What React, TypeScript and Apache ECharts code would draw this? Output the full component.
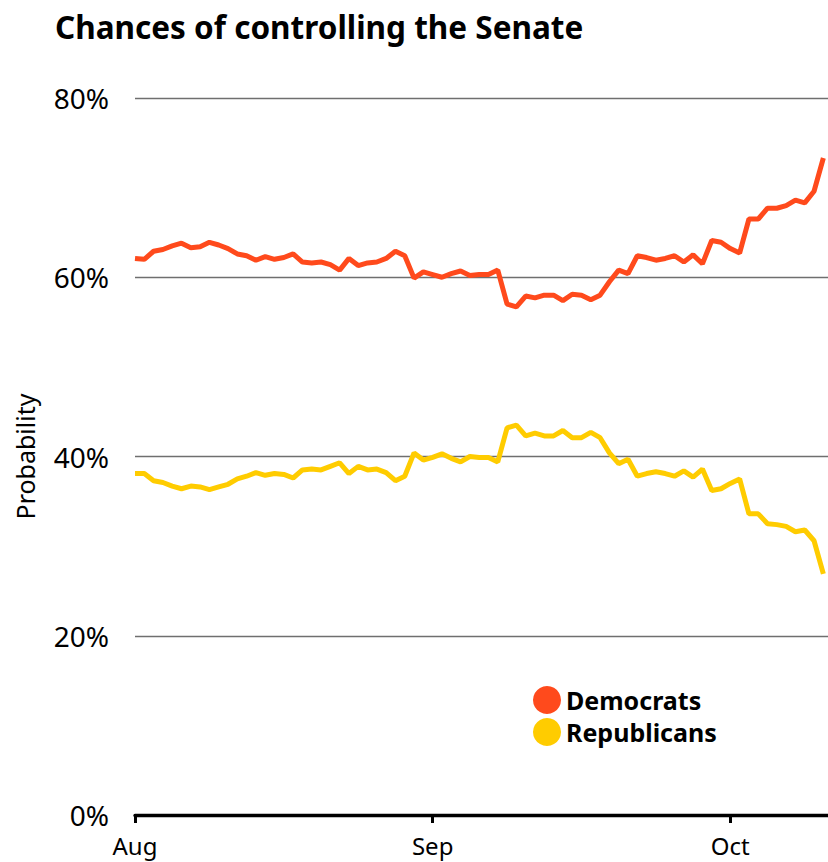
import React, { useEffect, useRef } from "react";
import * as echarts from "echarts";

// Daily-ish model runs, indexed from the start of August
const democrats = [
  62.1, 62.0, 62.9, 63.1, 63.5, 63.8, 63.3, 63.4, 63.9, 63.6, 63.2, 62.6, 62.4,
  61.9, 62.3, 62.0, 62.2, 62.6, 61.7, 61.6, 61.7, 61.4, 60.8, 62.1, 61.3, 61.6,
  61.7, 62.1, 62.9, 62.4, 59.9, 60.6, 60.3, 60.0, 60.4, 60.7, 60.2, 60.3, 60.3,
  60.8, 57.0, 56.7, 57.9, 57.7, 58.0, 58.0, 57.4, 58.1, 58.0, 57.5, 58.0, 59.5,
  60.8, 60.4, 62.4, 62.2, 61.9, 62.1, 62.4, 61.7, 62.5, 61.5, 64.1, 63.9, 63.2,
  62.7, 66.5, 66.5, 67.7, 67.7, 68.0, 68.6, 68.3, 69.6, 73.3,
];

const republicans = [
  38.1, 38.1, 37.3, 37.1, 36.7, 36.4, 36.7, 36.6, 36.3, 36.6, 36.9, 37.5, 37.8,
  38.2, 37.9, 38.1, 38.0, 37.6, 38.5, 38.6, 38.5, 38.9, 39.3, 38.1, 38.9, 38.5,
  38.6, 38.2, 37.3, 37.8, 40.4, 39.6, 39.9, 40.3, 39.8, 39.4, 40.0, 39.9, 39.9,
  39.4, 43.2, 43.5, 42.3, 42.6, 42.3, 42.3, 42.9, 42.1, 42.1, 42.7, 42.1, 40.4,
  39.2, 39.7, 37.8, 38.1, 38.3, 38.1, 37.8, 38.4, 37.7, 38.6, 36.2, 36.4, 37.0,
  37.5, 33.6, 33.6, 32.5, 32.4, 32.2, 31.6, 31.8, 30.6, 26.9,
];

// Month labels and the run index where each month begins
const monthLabels = ["Aug", "Sep", "Oct"];
const monthStarts = [0, 32, 64];

const yTicks = [0, 20, 40, 60, 80];

const DEM_COLOR = "#FF4A1C";
const REP_COLOR = "#FFCC00";
const FONT = "'Noto Sans', sans-serif";

export default function App() {
  const ref = useRef<HTMLDivElement>(null);

  useEffect(() => {
    document.body.style.margin = "0";
    const chart = echarts.init(ref.current!, null, { renderer: "svg" });

    const toPoints = (vals: number[]) => vals.map((v, i) => [i, v]);

    chart.setOption({
      animation: false,
      backgroundColor: "#fff",
      textStyle: { fontFamily: FONT },
      title: {
        text: "Chances of controlling the Senate",
        left: 50,
        top: 5,
        textStyle: {
          fontFamily: FONT,
          fontSize: 31.5,
          fontWeight: "bold",
          color: "#000",
        },
      },
      legend: {
        orient: "vertical",
        left: 528,
        top: 681,
        itemWidth: 28,
        itemHeight: 28,
        itemGap: 4,
        icon: "circle",
        textStyle: {
          fontFamily: FONT,
          fontSize: 25,
          fontWeight: "bold",
          color: "#000",
        },
        data: ["Democrats", "Republicans"],
      },
      grid: { left: 135, right: 0, top: 98, bottom: 47 },
      xAxis: {
        type: "value",
        min: 0,
        max: 74.5,
        splitLine: { show: false },
        axisLine: { show: true, lineStyle: { color: "#000", width: 3.3 } },
        axisTick: {
          show: true,
          length: 8,
          lineStyle: { color: "#000", width: 3 },
          customValues: monthStarts,
        },
        axisLabel: {
          customValues: monthStarts,
          formatter: (v: number) => monthLabels[monthStarts.indexOf(v)] ?? "",
          fontFamily: FONT,
          fontSize: 24,
          lineHeight: 26,
          color: "#000",
          margin: 17,
        },
      },
      yAxis: {
        type: "value",
        min: yTicks[0],
        max: yTicks[yTicks.length - 1],
        interval: 20,
        name: "Probability",
        nameLocation: "middle",
        nameRotate: 90,
        nameGap: 98,
        nameTextStyle: { fontFamily: FONT, fontSize: 25, color: "#000" },
        axisLine: { show: false },
        axisTick: { show: false },
        axisLabel: {
          formatter: "{value}%",
          fontFamily: FONT,
          fontSize: 28,
          color: "#000",
          margin: 26,
        },
        splitLine: { lineStyle: { color: "#6f6f6f", width: 1.3 } },
      },
      series: [
        {
          name: "Democrats",
          type: "line",
          data: toPoints(democrats),
          showSymbol: false,
          symbol: "none",
          lineStyle: { color: DEM_COLOR, width: 5 },
          itemStyle: { color: DEM_COLOR },
          z: 3,
        },
        {
          name: "Republicans",
          type: "line",
          data: toPoints(republicans),
          showSymbol: false,
          symbol: "none",
          lineStyle: { color: REP_COLOR, width: 5 },
          itemStyle: { color: REP_COLOR },
          z: 3,
        },
      ],
    });

    return () => chart.dispose();
  }, []);

  return <div ref={ref} style={{ width: 828, height: 862 }} />;
}
